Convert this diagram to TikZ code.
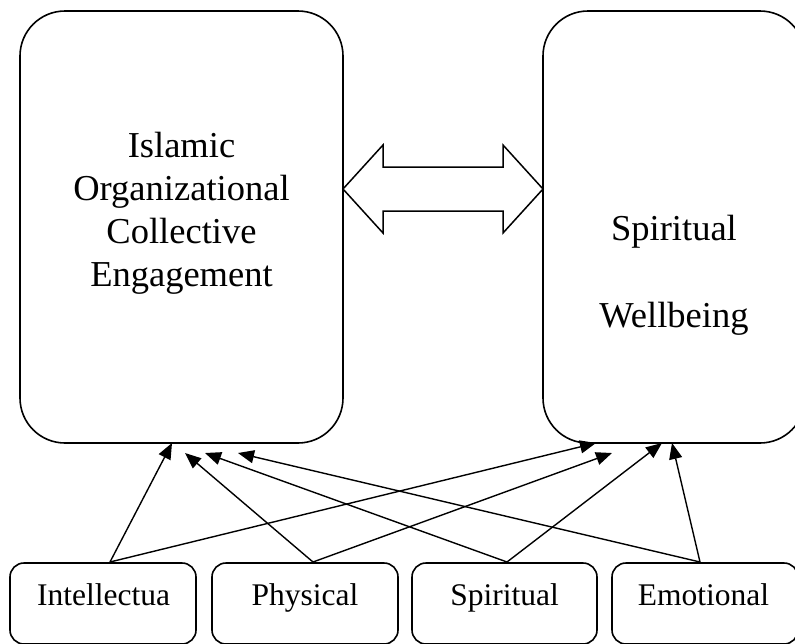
\documentclass[tikz,border=0pt]{standalone}
\usepackage{fontspec}
\setmainfont{Liberation Serif}
\usetikzlibrary{arrows.meta,calc}
\begin{document}
\begin{tikzpicture}[x=1pt,y=-1pt,
  bigbox/.style={draw,line width=1.6pt,rounded corners=45pt,inner sep=0pt,outer sep=0pt},
  smallbox/.style={draw,line width=1.6pt,rounded corners=14pt,inner sep=0pt,outer sep=0pt,minimum height=81pt},
  bigtext/.style={font=\fontsize{36.5}{43}\selectfont,align=center,inner sep=0pt},
  smalltext/.style={font=\fontsize{31.5}{36}\selectfont,inner sep=0pt,anchor=base},
  link/.style={line width=1.4pt,-{Triangle[length=16pt,width=13pt]}},
  dblarrow/.style={draw,line width=1.5pt,line join=miter}
]
\useasboundingbox (0,0) rectangle (795,643);
\begin{scope}
\clip (0,0) rectangle (795,643);
% big boxes
\node[bigbox,minimum width=323pt,minimum height=432pt] (org) at (181.5,227) {};
\node[bigbox,minimum width=262pt,minimum height=432pt] (swb) at (674,227) {};
\node[bigtext] (orgtext) at (181.5,213.5) {Islamic\\Organizational\\Collective\\Engagement};
\node[bigtext,font=\fontsize{36.5}{87}\selectfont] (swbtext) at (674,275) {Spiritual\\Wellbeing};
% small boxes
\node[smallbox,minimum width=186pt] (intel) at (103,603.5) {};
\node[smallbox,minimum width=186pt] (phys) at (305,603.5) {};
\node[smallbox,minimum width=185pt] (spir) at (504.5,603.5) {};
\node[smallbox,minimum width=186pt] (emo) at (705,603.5) {};
\node[smalltext] (inteltext) at (103.5,605) {Intellectua};
\node[smalltext] (physbtext) at (305,605) {Physical};
\node[smalltext] (spirtext) at (504.5,605) {Spiritual};
\node[smalltext] (emotext) at (703.5,605) {Emotional};
\end{scope}
% double arrow
\coordinate (ay) at (0,189);
\coordinate (dl) at (org.east |- ay);
\coordinate (dr) at (swb.west |- ay);
\draw[dblarrow] (dl) -- ++(40,-44) -- ++(0,22) -- ++(120,0) -- ++(0,-22) -- (dr)
  -- ++(-40,44) -- ++(0,-22) -- ++(-120,0) -- ++(0,22) -- cycle;
% sources
\coordinate (s1) at ($(intel.north)+(7,-1)$);
\coordinate (s2) at ($(phys.north)+(8,-1)$);
\coordinate (s3) at ($(spir.north)+(2.5,-1)$);
\coordinate (s4) at ($(emo.north)+(-5,-1)$);
% targets on left box
\coordinate (l1) at ($(org.south)+(-9.5,0)$);
\coordinate (l2) at ($(org.south)+(3.5,10)$);
\coordinate (l3) at ($(org.south)+(23.5,10)$);
\coordinate (l4) at ($(org.south)+(56.5,10)$);
% targets on right box
\coordinate (r1) at ($(swb.south)+(-78,0)$);
\coordinate (r2) at ($(swb.south)+(-62,10)$);
\coordinate (r3) at ($(swb.south)+(-12,0)$);
\coordinate (r4) at ($(swb.south)+(-2,0)$);
\draw[link] (s1) -- (l1);
\draw[link] (s1) -- (r1);
\draw[link] (s2) -- (l2);
\draw[link] (s2) -- (r2);
\draw[link] (s3) -- (l3);
\draw[link] (s3) -- (r3);
\draw[link] (s4) -- (l4);
\draw[link] (s4) -- (r4);
\end{tikzpicture}
\end{document}
